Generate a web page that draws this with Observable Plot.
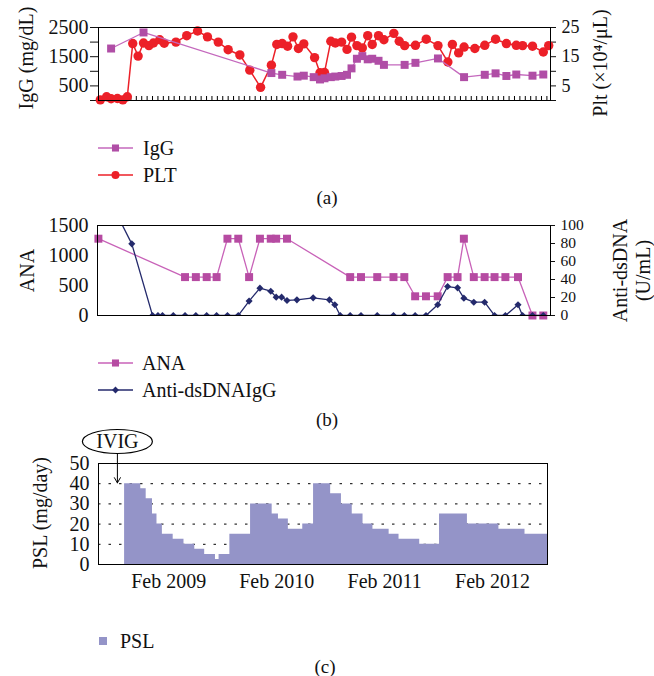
<!DOCTYPE html>
<html><head><meta charset="utf-8">
<script src="https://cdn.jsdelivr.net/npm/d3@7"></script>
<script src="https://cdn.jsdelivr.net/npm/@observablehq/plot@0.6"></script>
<style>
body{margin:0;background:#fff;}
#wrap{position:relative;width:654px;height:676px;overflow:hidden;font-family:"Liberation Serif","Times New Roman",serif;color:#111;}
.abs{position:absolute;}
.txt{position:absolute;font-size:20px;line-height:22px;white-space:nowrap;}
.cap{position:absolute;font-size:19px;line-height:22px;transform:translate(-50%,-50%);}
</style></head><body><div id="wrap"></div>
<script>
// ---------- Panel (a): IgG and PLT (x in months from Jun 2008) ----------
const pltMonth = [0.2,0.9,1.4,2.1,2.7,3.2,3.8,4.4,5.0,5.6,6.1,6.8,7.3,8.6,9.8,11.0,12.1,13.3,14.4,15.7,16.8,18.0,19.2,19.8,20.4,21.0,21.6,22.2,22.8,24.0,24.6,25.1,25.8,26.3,27.0,27.6,28.1,28.7,29.3,29.9,30.4,31.1,31.7,32.8,33.4,34.0,35.2,36.4,37.7,38.8,39.3,40.0,40.6,41.8,42.9,44.1,45.3,46.4,47.1,48.2,49.4,50.0];
const pltValue = [0.2,1.3,0.6,0.7,0.2,1.3,19.5,15.2,19.7,18.8,19.7,20.8,19.6,20.0,22.2,23.8,21.8,20.0,17.4,15.6,10.4,4.5,12.1,19.2,19.5,18.6,21.8,17.8,19.4,14.7,9.5,9.6,20.3,19.7,20.0,17.5,21.7,18.8,18.0,22.2,19.2,22.2,20.8,23.0,20.3,18.8,18.9,21.0,18.8,13.2,19.2,16.3,18.3,17.8,18.9,21.0,19.5,18.9,18.8,18.6,16.6,18.8];
const iggMonth = [1.4,5.0,19.2,20.4,22.1,22.8,23.9,24.6,25.1,25.8,26.3,27.0,27.6,28.1,28.7,29.3,29.9,30.4,31.1,31.7,34.0,35.2,37.7,40.6,42.9,44.1,45.3,46.4,48.2,49.4];
const iggValue = [1780,2330,940,880,820,850,800,720,760,800,820,840,880,1100,1430,1520,1410,1430,1360,1220,1220,1290,1440,800,880,930,840,890,850,890];
const iggTicks = [0,500,1000,1500,2000,2500];
const iggTickLabels = [500,1500,2500];
const pltTickLabels = [5,15,25];

// ---------- Panel (b): ANA and anti-dsDNA ----------
const anaMonth = [0.1,9.7,10.9,12.1,13.2,14.4,15.6,16.8,18.0,19.2,19.8,21.0,28.0,29.2,31.0,32.8,34.0,35.2,36.4,37.7,38.8,39.9,40.6,41.7,42.9,44.0,45.2,46.6,48.2,49.4];
const anaValue = [1280,640,640,640,640,1280,1280,640,1280,1280,1280,1280,640,640,640,640,640,320,320,320,640,640,1280,640,640,640,640,640,0,0];
const dnaMonth = [0.1,3.8,6.1,6.7,7.2,8.4,9.7,10.9,12.1,13.2,14.4,15.6,16.8,18.0,19.2,19.8,20.4,21.0,22.1,23.9,25.7,26.3,26.9,28.0,29.2,31.0,32.8,34.0,35.2,36.4,37.7,38.8,39.9,40.6,41.7,42.9,44.0,45.2,46.6,47.1,48.2,49.4];
const dnaValue = [153,79.6,0,0,0,0,0,0,0,0,0,0,16,30.4,27,20.4,20.4,16.7,17.4,19.6,17.4,11.9,0,0,0,0,0,0,0,0,11.9,32.2,30.7,19.3,14.8,14.8,0,0,11.9,0,0,0];
const anaTicks = [0,500,1000,1500];
const dnaTicks = [0,20,40,60,80,100];

// ---------- Panel (c): PSL dose (step) ----------
const pslMonth = [2.9,4.7,5.3,6.0,6.5,7.1,8.3,9.5,10.7,11.8,13.0,13.4,14.6,16.9,19.3,20.0,21.1,22.7,23.9,25.8,27.0,28.2,29.4,30.5,32.3,33.4,35.7,37.9,41.0,44.5,47.4,49.9];
const pslDose = [40,37.5,32.5,25,20,15,12.5,10,7.5,5,2.5,5,15,30,25,22.5,17.5,20,40,35,30,25,20,17.5,15,12.5,10,25,20,17.5,15,15];
const pslTicks = [0,10,20,30,40,50];
const pslGrid = [10,20,30,40];
const dateTickMonths = [7.8,19.8,31.8,43.8];
const dateTickLabels = ["Feb 2009","Feb 2010","Feb 2011","Feb 2012"];
const ivigMonth = 2.1;

// ---------- styles ----------
const FONT = "Liberation Serif";
const RED = "#ec2028", IGG = "#b04ea6", IGG_LINE = "#c468bd";
const ANA = "#b64ba2", ANA_LINE = "#c862b8", DNA = "#242a6c", PSLC = "#9494c8";
const baseStyle = {background: "transparent", fontFamily: FONT, fontSize: "20px", color: "#111", overflow: "visible"};
const wrap = document.getElementById("wrap");
function place(node, top){ const d = document.createElement("div"); d.className="abs"; d.style.left="0px"; d.style.top=top+"px"; d.appendChild(node); wrap.appendChild(d); }
function addText(cls, text, x, y){ const d=document.createElement("div"); d.className=cls; d.innerHTML=text; d.style.left=x+"px"; d.style.top=y+"px"; wrap.appendChild(d); return d; }
const fmt = d => String(d);
const title = (t, anchor, dx, dy) => Plot.text([t], {text: d => d, frameAnchor: anchor, textAnchor: "middle", lineAnchor: "middle", rotate: -90, dx, dy, fontSize: 20, fontFamily: FONT, fill: "#111"});

const xMinor = d3.range(0, 50.21, 0.6);

// Panel (a)
const aIgg = iggMonth.map((m,i)=>({m, v: iggValue[i]}));
const aPlt = pltMonth.map((m,i)=>({m, v: pltValue[i]}));
const plotA = Plot.plot({
  width: 654, height: 112, marginLeft: 98, marginRight: 104, marginTop: 27, marginBottom: 12,
  style: baseStyle,
  x: {domain: [0, 50.2], axis: null},
  y: {domain: [0, 2500], axis: null},
  marks: [
    Plot.axisY({anchor: "left", ticks: iggTicks, tickFormat: d => iggTickLabels.includes(d) ? String(d) : "", tickSize: 8, tickPadding: 2, label: null, fontFamily: FONT}),
    Plot.axisY({anchor: "right", ticks: iggTicks, tickFormat: d => pltTickLabels.includes(d/100) ? String(d/100) : "", tickSize: 5, tickPadding: 6, label: null, fontFamily: FONT, fontSize: 18}),
    Plot.ruleX(xMinor, {x: d => d, insetTop: 69, stroke: "#000"}),
    Plot.line(aPlt, {x: "m", y: d => d.v*100, stroke: RED, strokeWidth: 1.5}),
    Plot.dot(aPlt, {x: "m", y: d => d.v*100, r: 4.7, fill: RED}),
    Plot.line(aIgg, {x: "m", y: "v", stroke: IGG_LINE, strokeWidth: 1.3}),
    Plot.dot(aIgg, {x: "m", y: "v", symbol: "square", r: 4.5, fill: IGG}),
    Plot.frame({stroke: "#000"}),
    title("IgG (mg/dL)", "left", -72, -6),
    title("Plt (×10⁴/μL)", "right", 50, -1)
  ]
});
place(plotA, 0);

// Panel (b)
const bAna = anaMonth.map((m,i)=>({m, v: anaValue[i]}));
const bDna = dnaMonth.map((m,i)=>({m, v: dnaValue[i]}));
const plotB = Plot.plot({
  width: 654, height: 125, marginLeft: 97, marginRight: 104, marginTop: 25, marginBottom: 10,
  style: baseStyle,
  x: {domain: [0, 50.2], axis: null},
  y: {domain: [0, 1500], axis: null},
  marks: [
    Plot.axisY({anchor: "left", ticks: anaTicks, tickFormat: fmt, tickSize: 0, tickPadding: 9, label: null, fontFamily: FONT}),
    Plot.axisY({anchor: "right", ticks: dnaTicks.map(d => d*15), tickFormat: d => String(Math.round(d/15)), tickSize: 4, tickPadding: 6, label: null, fontFamily: FONT, fontSize: 15.5}),
    Plot.line(bAna, {x: "m", y: "v", stroke: ANA_LINE, strokeWidth: 1.3}),
    Plot.dot(bAna, {x: "m", y: "v", symbol: "square", r: 4.5, fill: ANA}),
    Plot.line(bDna, {x: "m", y: d => d.v*15, stroke: DNA, strokeWidth: 1.3, clip: true}),
    Plot.dot(bDna, {x: "m", y: d => d.v*15, symbol: "diamond2", r: 3.2, fill: DNA, clip: true}),
    Plot.frame({stroke: "#000"}),
    title("ANA", "left", -70, 0),
    title("Anti-dsDNA", "right", 70, 0),
    title("(U/mL)", "right", 93, 0)
  ]
});
place(plotB, 200);

// Panel (c)
const cPsl = pslMonth.map((m,i)=>({m, v: pslDose[i]}));
const ellipseSymbol = {draw(ctx){ const rx=35, ry=12, k=0.5523;
  ctx.moveTo(rx,0); ctx.bezierCurveTo(rx,ry*k,rx*k,ry,0,ry); ctx.bezierCurveTo(-rx*k,ry,-rx,ry*k,-rx,0);
  ctx.bezierCurveTo(-rx,-ry*k,-rx*k,-ry,0,-ry); ctx.bezierCurveTo(rx*k,-ry,rx,-ry*k,rx,0); ctx.closePath(); }};
const plotC = Plot.plot({
  width: 654, height: 174, marginLeft: 98, marginRight: 107, marginTop: 43, marginBottom: 30,
  style: baseStyle,
  x: {domain: [0, 49.9], axis: null},
  y: {domain: [0, 50], axis: null},
  marks: [
    Plot.ruleY(pslGrid, {y: d => d, stroke: "#000", strokeDasharray: "2.5,8"}),
    Plot.areaY(cPsl, {x: "m", y: "v", curve: "step-after", fill: PSLC}),
    Plot.axisY({anchor: "left", ticks: pslTicks, tickFormat: fmt, tickSize: 0, tickPadding: 9, label: null, fontFamily: FONT}),
    Plot.axisX({anchor: "bottom", ticks: dateTickMonths, tickFormat: d => dateTickLabels[dateTickMonths.indexOf(d)], tickSize: 0, tickPadding: 9, label: null, fontFamily: FONT}),
    Plot.frame({stroke: "#000"}),
    Plot.arrow([ivigMonth], {x1: d => d, x2: d => d, y1: 55, y2: 40.4, stroke: "#000", strokeWidth: 1, headLength: 9}),
    Plot.dot([ivigMonth], {x: d => d, y: 60.9, symbol: ellipseSymbol, fill: "#fff", stroke: "#000", strokeWidth: 1.2}),
    Plot.text(["IVIG"], {x: ivigMonth, y: 60.9, text: d => d, fontSize: 20, fontFamily: FONT, fill: "#111"}),
    title("PSL (mg/day)", "left", -58, -1)
  ]
});
place(plotC, 420);

// Legends
function legendLine(y, color, lineColor, symbol){
  const ns = "http://www.w3.org/2000/svg";
  const s = document.createElementNS(ns, "svg");
  s.setAttribute("width", 40); s.setAttribute("height", 20);
  s.style.position = "absolute"; s.style.left = "96px"; s.style.top = (y-10)+"px";
  const l = document.createElementNS(ns, "line");
  l.setAttribute("x1", 2); l.setAttribute("x2", 37); l.setAttribute("y1", 10); l.setAttribute("y2", 10);
  l.setAttribute("stroke", lineColor); l.setAttribute("stroke-width", 1.5); s.appendChild(l);
  const p = document.createElementNS(ns, "path");
  p.setAttribute("transform", "translate(19.5,10)");
  p.setAttribute("d", d3.symbol(symbol[0], symbol[1])());
  p.setAttribute("fill", color); s.appendChild(p);
  wrap.appendChild(s);
}
legendLine(148, IGG, IGG_LINE, [d3.symbolSquare, 50]);
addText("txt", "IgG", 143, 137);
legendLine(175, RED, RED, [d3.symbolCircle, 50]);
addText("txt", "PLT", 143, 164);
addText("cap", "(a)", 327, 198);

legendLine(363, ANA, ANA_LINE, [d3.symbolSquare, 50]);
addText("txt", "ANA", 142, 352);
legendLine(390, DNA, DNA, [d3.symbolDiamond2, 30]);
addText("txt", "Anti-dsDNAIgG", 142, 379);
addText("cap", "(b)", 327, 420);

const sq = document.createElement("div");
sq.className = "abs"; Object.assign(sq.style, {left: "99px", top: "637px", width: "8px", height: "8px", background: PSLC});
wrap.appendChild(sq);
addText("txt", "PSL", 120, 630);
addText("cap", "(c)", 325, 667);
</script></body></html>
